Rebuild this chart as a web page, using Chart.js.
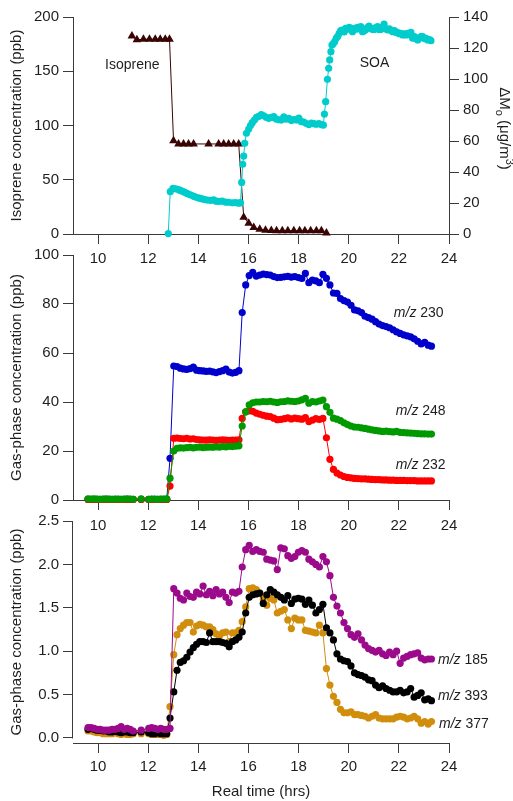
<!DOCTYPE html>
<html>
<head>
<meta charset="utf-8">
<script src="https://cdn.jsdelivr.net/npm/chart.js@4.4.0/dist/chart.umd.min.js"></script>
<style>
  body { margin: 0; background: #fff; }
  #wrap { position: relative; width: 513px; height: 801px; }
  canvas { position: absolute; left: 0; }
</style>
</head>
<body>
<div id="wrap">
  <canvas id="c1" width="513" height="270" style="top:0px"></canvas>
  <canvas id="c2" width="513" height="300" style="top:240px"></canvas>
  <canvas id="c3" width="513" height="296" style="top:505px"></canvas>
</div>
<script>
// ---- data ----
const xTicks = [10, 12, 14, 16, 18, 20, 22, 24];

// top panel: isoprene (left axis, ppb) and SOA mass (right axis, ug/m3)
const isoTime = [11.35, 11.55, 11.81, 12.05, 12.28, 12.48, 12.68, 12.85, 13.01, 13.21, 13.41, 13.61, 13.81, 14.41, 14.81, 15.01, 15.21, 15.41, 15.61, 15.81, 16.01, 16.21, 16.45, 16.68, 16.91, 17.12, 17.35, 17.57, 17.81, 18.04, 18.25, 18.48, 18.71, 18.91, 19.11];
const isoprene = [182.5, 179, 179.5, 179.5, 179.5, 179.5, 179.5, 179.5, 86, 83, 83, 83, 83, 83, 83, 83, 83, 83, 83, 15.5, 9.8, 6.1, 4.3, 3.5, 3.2, 3, 3, 3, 3, 3, 3, 3, 3, 3, 1];

const soaTime = [12.8, 12.88, 12.99, 13.08, 13.17, 13.26, 13.35, 13.45, 13.55, 13.65, 13.75, 13.85, 13.95, 14.05, 14.15, 14.25, 14.35, 14.48, 14.61, 14.71, 14.81, 14.95, 15.08, 15.2, 15.35, 15.48, 15.61, 15.68, 15.73, 15.77, 15.81, 15.85, 15.92, 16.01, 16.08, 16.15, 16.24, 16.32, 16.41, 16.51, 16.61, 16.71, 16.81, 16.91, 17.01, 17.11, 17.21, 17.31, 17.41, 17.51, 17.61, 17.71, 17.81, 17.91, 18.01, 18.11, 18.21, 18.31, 18.41, 18.51, 18.61, 18.71, 18.81, 18.91, 18.99, 19.03, 19.08, 19.15, 19.2, 19.24, 19.29, 19.33, 19.38, 19.44, 19.5, 19.56, 19.62, 19.68, 19.75, 19.82, 19.88, 19.95, 20.02, 20.09, 20.15, 20.22, 20.28, 20.35, 20.42, 20.48, 20.55, 20.62, 20.68, 20.75, 20.81, 20.88, 20.95, 21.01, 21.08, 21.15, 21.21, 21.28, 21.35, 21.41, 21.48, 21.55, 21.62, 21.68, 21.75, 21.82, 21.88, 21.95, 22.02, 22.08, 22.15, 22.22, 22.28, 22.35, 22.42, 22.48, 22.55, 22.62, 22.68, 22.75, 22.82, 22.88, 22.95, 23.02, 23.08, 23.15, 23.22, 23.28];
const soa = [0.3, 27.3, 29.5, 29.2, 28.8, 28.3, 27.6, 27, 26.2, 25.5, 24.8, 24.1, 23.5, 23.1, 22.6, 22.2, 21.9, 21.7, 22, 21.2, 21.1, 21.2, 20.6, 20.5, 20.1, 20.3, 19.9, 20.2, 33.3, 45, 50.3, 58.5, 65, 67.7, 70, 71.8, 73.5, 75.3, 75.9, 77, 76.3, 75.3, 74.6, 75.2, 75.8, 74.2, 73.7, 73.5, 75.6, 74.1, 74.6, 73.2, 73.8, 73.5, 74.8, 72.5, 72.2, 71.3, 70.6, 71.6, 71.2, 70.8, 71.3, 70.6, 70.3, 77.4, 85.4, 99.8, 106.9, 112.3, 117.6, 121.9, 122.8, 124.1, 126.3, 127.5, 129.5, 131.2, 131.6, 130.4, 132.7, 132.3, 133.4, 131.8, 130.5, 132.6, 132.1, 133.4, 132.4, 133.8, 130.5, 131.2, 132, 133.2, 134.2, 132.6, 131.9, 132, 133.1, 133.8, 132, 131.9, 133.3, 135.5, 132.4, 131.6, 132.3, 131.5, 130.5, 131.2, 130.2, 129.9, 129.2, 129.5, 128.4, 129.1, 128.4, 129.5, 128.6, 130.1, 126.3, 127.4, 126.2, 125.2, 126.4, 127.3, 127.3, 126.1, 126.2, 125.2, 125.5, 124.7];

// gas-phase time base (middle and bottom panels)
const gasTime = [9.6, 9.72, 9.84, 9.96, 10.08, 10.2, 10.32, 10.44, 10.56, 10.68, 10.8, 10.92, 11.04, 11.16, 11.28, 11.4, 11.72, 12.02, 12.14, 12.26, 12.38, 12.5, 12.62, 12.74, 12.87, 13.02, 13.15, 13.28, 13.41, 13.54, 13.67, 13.8, 13.93, 14.06, 14.19, 14.32, 14.45, 14.58, 14.71, 14.84, 14.97, 15.1, 15.23, 15.36, 15.49, 15.62, 15.75, 15.89, 16.03, 16.17, 16.31, 16.45, 16.59, 16.73, 16.87, 17.01, 17.15, 17.29, 17.43, 17.57, 17.71, 17.85, 17.99, 18.13, 18.27, 18.41, 18.55, 18.69, 18.83, 18.97, 19.11, 19.25, 19.39, 19.53, 19.67, 19.81, 19.95, 20.09, 20.23, 20.37, 20.51, 20.65, 20.79, 20.93, 21.07, 21.21, 21.35, 21.49, 21.63, 21.77, 21.91, 22.05, 22.19, 22.33, 22.47, 22.61, 22.75, 22.89, 23.03, 23.17, 23.3];

const mz230 = [0.3, 0.3, 0.3, 0.3, 0.3, 0.3, 0.3, 0.3, 0.3, 0.3, 0.3, 0.3, 0.3, 0.3, 0.3, 0.3, 0.3, 0.3, 0.3, 0.3, 0.3, 0.3, 0.3, 0.3, 17, 54.7, 54.5, 53.8, 53.5, 53.3, 53.6, 54.2, 53, 52.8, 52.7, 52.5, 52.6, 52.3, 52, 52.4, 52.8, 53.4, 52.2, 51.8, 52.1, 52.8, 76.5, 87.8, 91.6, 92.9, 91.4, 91.8, 92.2, 92, 91.8, 91.2, 90.8, 90.9, 91.1, 91.3, 91, 91.2, 90.8, 90.4, 92.5, 88.7, 89.8, 89.4, 88.7, 92.1, 90.5, 87.8, 84.5, 84.3, 82.2, 81.4, 80.8, 79.5, 77.6, 77.2, 76.5, 75, 74.4, 73.8, 72.8, 71.8, 71.2, 70.8, 70.3, 69.5, 68.6, 68, 67.4, 67, 66.6, 65.8, 64.8, 63.7, 64.3, 63.2, 62.8];
const mz248 = [0.5, 0.4, 0.5, 0.4, 0.3, 0.4, 0.5, 0.4, 0.3, 0.4, 0.4, 0.3, 0.4, 0.5, 0.4, 0.3, 0.5, 0.3, 0.4, 0.4, 0.3, 0.4, 0.4, 0.5, 8.9, 20, 21.1, 21.3, 21.2, 21.4, 21.5, 21.3, 21.5, 21.6, 21.4, 21.5, 21.6, 21.5, 21.7, 21.6, 21.8, 21.7, 21.9, 21.8, 22, 22.1, 30.2, 36, 38.8, 39.7, 40, 40, 40.2, 40.1, 40.3, 40, 39.8, 40.1, 40.2, 40.5, 40.3, 40.2, 40.4, 40.9, 41.5, 39.5, 40.2, 40, 40.4, 40.8, 38.1, 35.8, 33.4, 33, 32.4, 31.5, 30.8, 30.2, 29.8, 29.7, 29.4, 29.2, 28.9, 28.6, 28.4, 28.2, 28, 28.1, 27.9, 27.8, 28, 27.6, 27.5, 27.4, 27.3, 27.2, 27.1, 27, 27, 26.9, 26.9];
const mz232 = [0.2, 0.2, 0.2, 0.2, 0.2, 0.2, 0.2, 0.2, 0.2, 0.2, 0.2, 0.2, 0.2, 0.2, 0.2, 0.2, 0.2, 0.2, 0.2, 0.2, 0.2, 0.2, 0.2, 0.2, 5.7, 25.2, 25.3, 25.1, 25, 25.2, 24.9, 25, 24.7, 24.6, 24.5, 24.4, 24.6, 24.5, 24.3, 24.5, 24.6, 24.4, 24.3, 24.5, 24.4, 24.6, 33.3, 36, 36.4, 36.2, 35.5, 35, 34.6, 34.2, 34, 33.4, 32.8, 32.9, 33.2, 33.5, 33.1, 33.4, 33.2, 33, 33.6, 32, 32.6, 33.2, 32.9, 33.3, 25.4, 16.6, 12.5, 11, 10.2, 9.6, 9.2, 9, 8.8, 8.7, 8.6, 8.6, 8.5, 8.4, 8.3, 8.3, 8.2, 8.2, 8.1, 8.1, 8, 8, 8, 7.9, 7.9, 7.9, 7.8, 7.8, 7.8, 7.8, 7.8];

const mz185 = [0.12, 0.12, 0.11, 0.1, 0.1, 0.09, 0.09, 0.09, 0.1, 0.1, 0.11, 0.13, 0.1, 0.11, 0.1, 0.08, 0.09, 0.11, 0.12, 0.11, 0.1, 0.11, 0.1, 0.1, 0.11, 1.72, 1.67, 1.61, 1.59, 1.67, 1.63, 1.62, 1.68, 1.66, 1.75, 1.65, 1.69, 1.64, 1.71, 1.66, 1.68, 1.62, 1.56, 1.68, 1.67, 1.69, 1.97, 2.17, 2.22, 2.15, 2.17, 2.15, 2.14, 2.06, 2.05, 2.04, 1.94, 2.19, 2.18, 2.1, 2.07, 2.09, 2.14, 2.16, 2.14, 2.06, 2.03, 2.0, 1.97, 2.09, 2.03, 1.87, 1.62, 1.52, 1.44, 1.33, 1.26, 1.19, 1.16, 1.2, 1.13, 1.07, 1.03, 1.01, 0.99, 1.01, 0.97, 0.95, 0.99, 0.96, 1.0, 0.86, 0.92, 0.94, 0.96, 0.97, 0.98, 0.92, 0.9, 0.91, 0.91];
const mz393 = [0.1, 0.11, 0.1, 0.09, 0.09, 0.08, 0.08, 0.07, 0.07, 0.08, 0.07, 0.06, 0.07, 0.07, 0.06, 0.06, 0.07, 0.06, 0.05, 0.05, 0.06, 0.05, 0.05, 0.05, 0.23, 0.53, 0.78, 0.87, 0.89, 0.93, 0.99, 1.04, 1.08, 1.11, 1.11, 1.1, 1.21, 1.11, 1.11, 1.11, 1.1, 1.09, 1.05, 1.11, 1.13, 1.16, 1.22, 1.44, 1.62, 1.65, 1.66, 1.67, 1.55, 1.65, 1.71, 1.68, 1.65, 1.62, 1.59, 1.64, 1.55, 1.6, 1.61, 1.6, 1.54, 1.59, 1.53, 1.44, 1.48, 1.54, 1.27, 1.21, 1.13, 0.97, 0.91, 0.89, 0.88, 0.83, 0.75, 0.73, 0.72, 0.7, 0.67, 0.66, 0.61, 0.58, 0.6, 0.57, 0.55, 0.53, 0.53, 0.55, 0.52, 0.53, 0.57, 0.47, 0.49, 0.52, 0.44, 0.45, 0.43];
const mz377 = [0.08, 0.08, 0.07, 0.06, 0.06, 0.05, 0.05, 0.05, 0.05, 0.06, 0.05, 0.04, 0.05, 0.04, 0.04, 0.05, 0.05, 0.05, 0.04, 0.04, 0.04, 0.04, 0.03, 0.04, 0.36, 0.96, 1.19, 1.26, 1.3, 1.33, 1.33, 1.22, 1.29, 1.31, 1.3, 1.28, 1.28, 1.25, 1.2, 1.17, 1.21, 1.22, 1.11, 1.21, 1.21, 1.24, 1.34, 1.51, 1.72, 1.73, 1.71, 1.67, 1.6, 1.53, 1.61, 1.59, 1.44, 1.46, 1.48, 1.36, 1.26, 1.38, 1.36, 1.36, 1.24, 1.23, 1.22, 1.21, 1.3, 1.21, 0.8, 0.61, 0.48, 0.41, 0.33, 0.29, 0.29, 0.3, 0.27, 0.27, 0.26, 0.25, 0.23, 0.25, 0.27, 0.23, 0.22, 0.22, 0.22, 0.22, 0.24, 0.25, 0.24, 0.22, 0.23, 0.25, 0.22, 0.17, 0.19, 0.16, 0.19];

// ---- styling ----
const FAMILY = "'Liberation Sans', Arial, Helvetica, sans-serif";
const TEXT = '#1e1e1e';
const AXIS = '#3a3a3a';
Chart.defaults.font.family = FAMILY;
Chart.defaults.font.size = 15;
Chart.defaults.color = TEXT;

const pts = (xs, ys) => xs.map((x, i) => ({ x: x, y: ys[i] }));

function series(label, xs, ys, color, extra) {
  return Object.assign({
    label: label,
    data: pts(xs, ys),
    showLine: true,
    borderColor: color,
    borderWidth: 1,
    backgroundColor: color,
    pointBackgroundColor: color,
    pointBorderColor: color,
    pointBorderWidth: 0,
    pointRadius: 3.6,
    pointStyle: 'circle',
    clip: false,
  }, extra || {});
}

function xAxis(height, pad, title) {
  return {
    type: 'linear', position: 'bottom', min: 9, max: 24,
    afterBuildTicks: s => { s.ticks = xTicks.map(v => ({ value: v })); },
    afterFit: s => { s.height = height; },
    border: { display: true, color: AXIS, width: 1 },
    grid: { display: true, drawOnChartArea: false, drawTicks: true, tickLength: 10, color: AXIS },
    ticks: { padding: pad, maxRotation: 0, autoSkip: false, callback: v => String(v) },
    title: title ? { display: true, text: title, padding: { top: 0, bottom: 0 } } : { display: false },
  };
}

function yAxis(pos, min, max, ticks, fmt, title, showBorder) {
  return {
    type: 'linear', position: pos, min: min, max: max,
    afterBuildTicks: s => { s.ticks = ticks.map(v => ({ value: v })); },
    afterFit: s => { s.width = pos === 'left' ? 73 : 64; },
    border: { display: showBorder !== false, color: AXIS, width: 1 },
    grid: { display: true, drawOnChartArea: false, drawTicks: true, tickLength: 10, color: AXIS },
    ticks: { padding: 4, callback: fmt },
    title: title ? { display: true, text: title, padding: { top: 8, bottom: 0 } } : { display: false },
  };
}

// text labels placed in data coordinates, with italic parts
const notesPlugin = {
  id: 'notes',
  afterDraw(chart, args, opts) {
    const ctx = chart.ctx;
    ctx.save();
    if (opts.yLineFrom !== undefined) {
      // left axis line that stops at the lowest tick (offset x axis)
      const ys = chart.scales.y;
      const x = Math.round(ys.right) - 0.5;
      ctx.strokeStyle = AXIS;
      ctx.lineWidth = 1;
      ctx.beginPath();
      ctx.moveTo(x, ys.getPixelForValue(ys.max));
      ctx.lineTo(x, ys.getPixelForValue(opts.yLineFrom) + 0.5);
      ctx.stroke();
    }
    ctx.fillStyle = TEXT;
    ctx.textBaseline = 'middle';
    ctx.textAlign = 'left';
    (opts.items || []).forEach(n => {
      let px = chart.scales.x.getPixelForValue(n.x);
      const py = chart.scales[n.axis || 'y'].getPixelForValue(n.y);
      n.parts.forEach(p => {
        ctx.font = (p[1] ? 'italic ' : '') + '14px ' + FAMILY;
        ctx.fillText(p[0], px, py);
        px += ctx.measureText(p[0]).width;
      });
    });
    if (opts.sideTitle) {
      // rotated right-hand axis title with sub/superscript
      const parts = [['\u0394M', 0], ['o', 1], [' (\u03bcg/m', 0], ['3', -1], [')', 0]];
      const fontFor = k => (k === 0 ? '15px ' : '11px ') + FAMILY;
      let total = 0;
      parts.forEach(p => { ctx.font = fontFor(p[1]); total += ctx.measureText(p[0]).width; });
      const a = chart.chartArea;
      ctx.translate(chart.width - 9, (a.top + a.bottom) / 2 + 3);
      ctx.rotate(Math.PI / 2);
      let x = -total / 2;
      parts.forEach(p => {
        ctx.font = fontFor(p[1]);
        ctx.fillText(p[0], x, p[1] * 5);
        x += ctx.measureText(p[0]).width;
      });
    }
    ctx.restore();
  }
};

const common = {
  responsive: false,
  animation: false,
  events: [],
};

// ---- top panel ----
new Chart(document.getElementById('c1'), {
  type: 'scatter',
  data: {
    datasets: [
      series('SOA', soaTime, soa, '#00cccc', { yAxisID: 'y2' }),
      series('Isoprene', isoTime, isoprene, '#3a0404', { pointStyle: 'triangle', pointRadius: 5, yAxisID: 'y' }),
    ]
  },
  options: Object.assign({}, common, {
    layout: { padding: { top: 17, left: 0, right: 0, bottom: 0 } },
    scales: {
      x: xAxis(36, 6),
      y: yAxis('left', 0, 200, [0, 50, 100, 150, 200], v => String(v), 'Isoprene concentration (ppb)'),
      y2: yAxis('right', 0, 140, [0, 20, 40, 60, 80, 100, 120, 140], v => String(v)),
    },
    plugins: {
      legend: { display: false }, tooltip: { enabled: false },
      notes: {
        sideTitle: true,
        items: [
          { x: 10.28, y: 155.8, parts: [['Isoprene', 0]] },
          { x: 20.44, y: 157.6, parts: [['SOA', 0]] },
        ]
      }
    }
  }),
  plugins: [notesPlugin]
});

// ---- middle panel ----
new Chart(document.getElementById('c2'), {
  type: 'scatter',
  data: {
    datasets: [
      series('m/z 248', gasTime, mz248, '#009a00'),
      series('m/z 232', gasTime, mz232, '#ff0000'),
      series('m/z 230', gasTime, mz230, '#0000cc'),
    ]
  },
  options: Object.assign({}, common, {
    layout: { padding: { top: 15, left: 0, right: 64, bottom: 0 } },
    scales: {
      x: xAxis(40, 7),
      y: yAxis('left', 0, 100, [0, 20, 40, 60, 80, 100], v => String(v), 'Gas-phase concentration (ppb)'),
    },
    plugins: {
      legend: { display: false }, tooltip: { enabled: false },
      notes: {
        items: [
          { x: 21.8, y: 76.3, parts: [['m/z', 1], [' 230', 0]] },
          { x: 21.88, y: 36.3, parts: [['m/z', 1], [' 248', 0]] },
          { x: 21.88, y: 14.3, parts: [['m/z', 1], [' 232', 0]] },
        ]
      }
    }
  }),
  plugins: [notesPlugin]
});

// ---- bottom panel ----
new Chart(document.getElementById('c3'), {
  type: 'scatter',
  data: {
    datasets: [
      series('m/z 185', gasTime, mz185, '#9c0a8c'),
      series('m/z 393', gasTime, mz393, '#000000'),
      series('m/z 377', gasTime, mz377, '#d18d0c'),
    ]
  },
  options: Object.assign({}, common, {
    layout: { padding: { top: 16, left: 0, right: 64, bottom: 0 } },
    scales: {
      x: xAxis(58, 5, 'Real time (hrs)'),
      y: yAxis('left', -0.058, 2.5, [0, 0.5, 1, 1.5, 2, 2.5], v => v.toFixed(1), 'Gas-phase concentration (ppb)', false),
    },
    plugins: {
      legend: { display: false }, tooltip: { enabled: false },
      notes: {
        yLineFrom: 0,
        items: [
          { x: 23.56, y: 0.9, parts: [['m/z', 1], [' 185', 0]] },
          { x: 23.56, y: 0.48, parts: [['m/z', 1], [' 393', 0]] },
          { x: 23.6, y: 0.16, parts: [['m/z', 1], [' 377', 0]] },
        ]
      }
    }
  }),
  plugins: [notesPlugin]
});
</script>
</body>
</html>
